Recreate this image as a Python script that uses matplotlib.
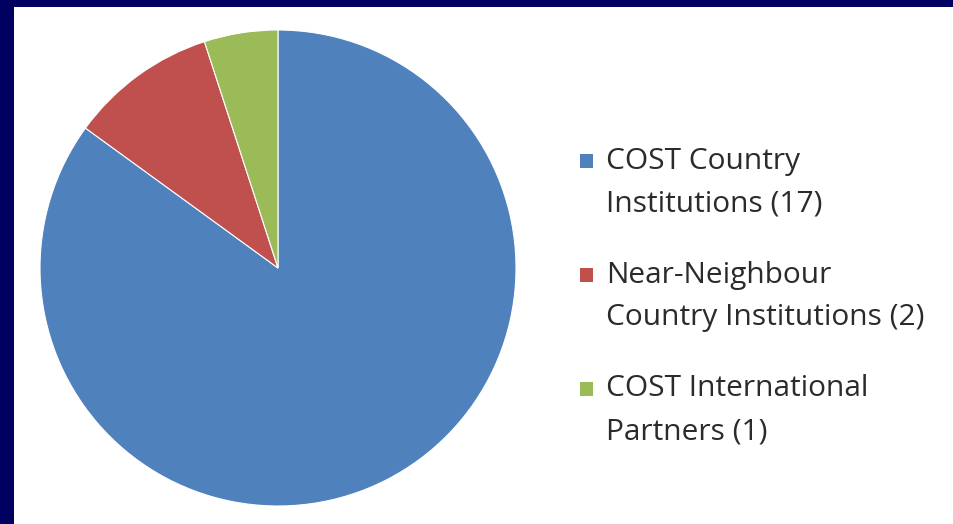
import matplotlib.pyplot as plt
from matplotlib.patches import Rectangle

labels = ['COST Country\nInstitutions (17)',
          'Near-Neighbour\nCountry Institutions (2)',
          'COST International\nPartners (1)']
counts = [17, 2, 1]
colors = ['#4F81BD', '#C0504D', '#9BBB59']

W, H = 954, 524
fig = plt.figure(figsize=(W / 100, H / 100), dpi=100)
fig.patch.set_facecolor('white')

# navy frame on top and left
navy = '#000060'
fig.add_artist(Rectangle((0, 0), 14 / W, 1, transform=fig.transFigure,
                         color=navy, lw=0))
fig.add_artist(Rectangle((0, 1 - 7 / H), 1, 7 / H, transform=fig.transFigure,
                         color=navy, lw=0))

cx, cy, r = 278, 268, 238
ax = fig.add_axes([(cx - r) / W, (H - cy - r) / H, 2 * r / W, 2 * r / H])
ax.pie(counts, colors=colors, startangle=90, counterclock=False,
       wedgeprops=dict(edgecolor='white', linewidth=0.8))
ax.set_xlim(-1, 1)
ax.set_ylim(-1, 1)
ax.set_aspect('equal')

# legend drawn by hand, one text per line
y_first = [161, 275, 389]
gap = 43
for lab, col, y in zip(labels, colors, y_first):
    fig.add_artist(Rectangle((580 / W, (H - y - 7) / H), 13 / W, 14 / H,
                             transform=fig.transFigure, color=col, lw=0))
    for i, line in enumerate(lab.split('\n')):
        fig.text(606 / W, (H - y - i * gap) / H, line, fontsize=21.5,
                 family='Open Sans', color='#2b2b2b', va='center', ha='left')
plt.savefig('out.png', dpi=100)
